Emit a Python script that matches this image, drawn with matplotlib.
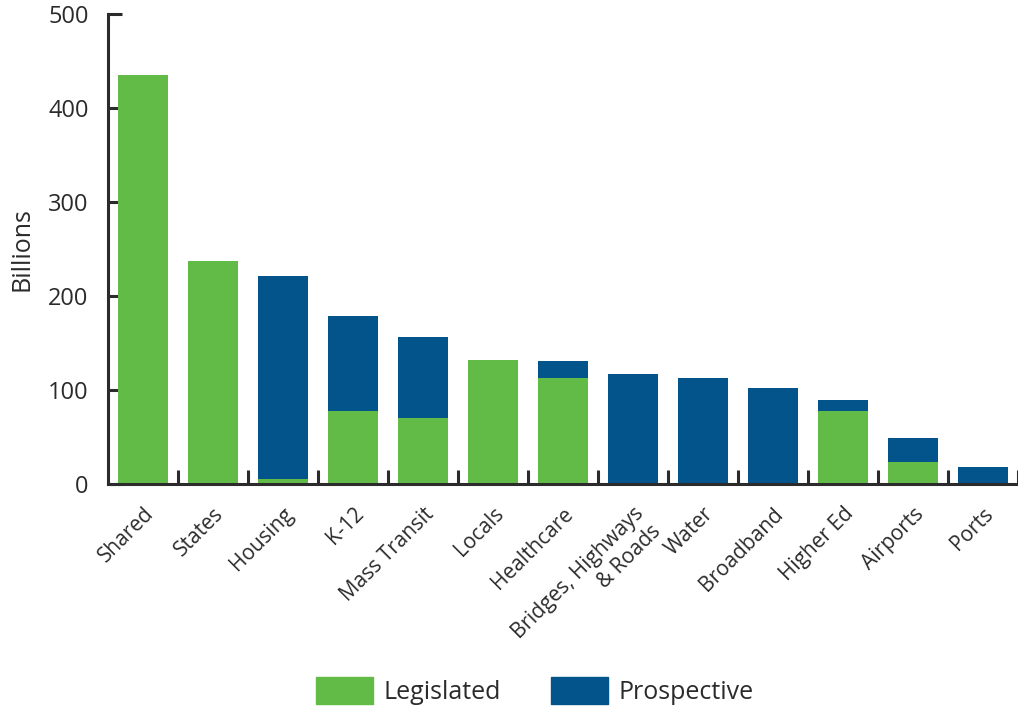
import matplotlib
matplotlib.use("Agg")
import matplotlib.pyplot as plt
import numpy as np
from matplotlib.patches import Patch

categories = ["Shared", "States", "Housing", "K-12", "Mass Transit", "Locals",
              "Healthcare", "Bridges, Highways\n& Roads", "Water", "Broadband",
              "Higher Ed", "Airports", "Ports"]
legislated = [435, 237, 5, 78, 70, 132, 113, 0, 0, 0, 78, 23, 0]
prospective = [0, 0, 216, 101, 86, 0, 18, 117, 113, 102, 11, 26, 18]
yticks = [0, 100, 200, 300, 400, 500]

green = "#62BB46"
blue = "#02548B"
axc = "#2b2b2b"
txt = "#2b2b2b"

plt.rcParams['font.family'] = ['Open Sans', 'DejaVu Sans']

fig = plt.figure(figsize=(10.18, 7.06), dpi=100)
ax = fig.add_axes([108/1018, 1-484/706, 1-108/1018, 470/706])

x = np.arange(len(categories))
w = 0.72
ax.bar(x, legislated, w, color=green, zorder=2)
ax.bar(x, prospective, w, bottom=legislated, color=blue, zorder=2)

ax.set_xlim(-0.5, len(categories) - 0.5)
ax.set_ylim(0, 500)
ax.set_yticks(yticks)
ax.set_yticklabels([str(v) for v in yticks], fontsize=17, color=txt)
ax.set_xticks(x)
ax.set_xticklabels(categories, rotation=45, ha='right', rotation_mode='anchor',
                   fontsize=15, color=txt, multialignment='right', linespacing=1.2)
ax.tick_params(axis='x', length=0, pad=14)
ax.set_xticks(np.arange(len(categories)) + 0.5, minor=True)
ax.tick_params(axis='x', which='minor', direction='in', length=10, width=2.2, color=axc)
ax.tick_params(axis='y', direction='in', length=10, width=2.2, color=axc, pad=14)

for s in ['top', 'right']:
    ax.spines[s].set_visible(False)
for s in ['left', 'bottom']:
    ax.spines[s].set_color(axc)
    ax.spines[s].set_linewidth(2.2)

ax.set_ylabel("Billions", fontsize=18, color=txt, labelpad=10)

handles = [Patch(color=green, label="Legislated"), Patch(color=blue, label="Prospective")]
fig.legend(handles=handles, loc='lower center', bbox_to_anchor=(0.525, -0.03), ncol=2,
           frameon=False, fontsize=18, handlelength=2.3, handleheight=1.3,
           columnspacing=2.0, handletextpad=0.4, labelcolor=txt)

fig.savefig("out.png", dpi=100)
